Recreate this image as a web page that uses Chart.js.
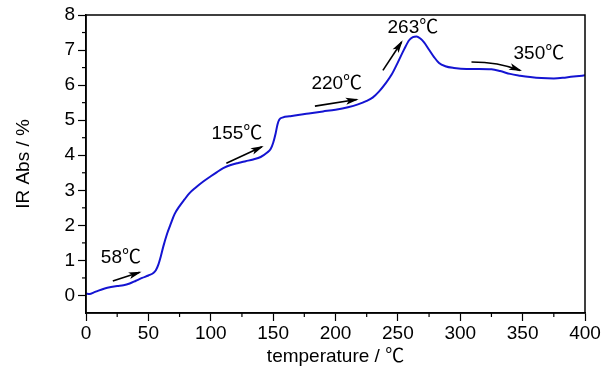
<!DOCTYPE html>
<html>
<head>
<meta charset="utf-8">
<script src="https://cdn.jsdelivr.net/npm/chart.js@4/dist/chart.umd.min.js"></script>
<style>
  html, body { margin: 0; padding: 0; background: #fff; }
  #wrap { width: 607px; height: 372px; }
</style>
</head>
<body>
<div id="wrap"><canvas id="grafico"></canvas></div>
<script>
// Datos: temperatura (℃) vs absorbancia IR (%)
const temperaturas = [0, 3, 6, 10, 15, 20, 25, 30, 35, 40, 45, 50, 54, 56, 58, 60, 62, 65, 68, 71,
  75, 79, 83, 88, 94, 100, 105, 110, 116, 122, 128, 134, 140, 145, 148, 150, 152, 153.5, 155, 158, 163, 170,
  180, 190, 200, 210, 218, 225, 230, 235, 240, 245, 250, 255, 259, 262, 265, 268, 271, 275, 279, 283,
  288, 295, 305, 315, 325, 332, 340, 348, 356, 365, 375, 385, 393, 400];
const absorbancia = [0.05, 0.04, 0.08, 0.14, 0.20, 0.24, 0.27, 0.29, 0.34, 0.42, 0.50, 0.57, 0.64, 0.72, 0.88, 1.12, 1.40, 1.76, 2.05, 2.32,
  2.55, 2.74, 2.92, 3.08, 3.25, 3.40, 3.52, 3.63, 3.72, 3.78, 3.83, 3.88, 3.95, 4.07, 4.18, 4.35, 4.62, 4.88, 5.02, 5.08, 5.11, 5.15,
  5.20, 5.25, 5.30, 5.37, 5.45, 5.55, 5.65, 5.82, 6.04, 6.30, 6.65, 7.02, 7.28, 7.37, 7.39, 7.33, 7.22, 7.01, 6.80, 6.63,
  6.54, 6.49, 6.46, 6.46, 6.45, 6.40, 6.32, 6.27, 6.23, 6.20, 6.19, 6.22, 6.25, 6.28];

// Ticks de los ejes
const ticksX = [0, 50, 100, 150, 200, 250, 300, 350, 400];
const ticksY = [0, 1, 2, 3, 4, 5, 6, 7, 8];
const menoresX = [25, 75, 125, 175, 225, 275, 325, 375];
const menoresY = [0.5, 1.5, 2.5, 3.5, 4.5, 5.5, 6.5, 7.5];

// Anotaciones: texto y flechas (en coordenadas de datos)
const etiquetas = ["58℃", "155℃", "220℃", "263℃", "350℃"];
const etiquetaPos = [[28, 1.08], [121, 4.62], [201, 6.05], [262, 7.65], [363, 6.89]];
const flechas = [
  [[21.5, 0.41], [43, 0.66]],
  [[112.5, 3.77], [141, 4.24]],
  [[183.5, 5.40], [217, 5.59]],
  [[238, 6.42], [253, 7.23]],
  [[309, 6.66], [348, 6.42]]
];

const FUENTE = "'Liberation Sans', Arial, 'Noto Sans CJK SC', sans-serif";

// Dibuja marco, ticks menores, etiquetas y flechas
const anotaciones = {
  id: 'anotaciones',
  afterDraw(chart) {
    const ctx = chart.ctx;
    const a = chart.chartArea;
    const sx = chart.scales.x, sy = chart.scales.y;
    ctx.save();
    ctx.strokeStyle = '#000';
    ctx.lineWidth = 1.5;
    ctx.strokeRect(a.left, a.top, a.right - a.left, a.bottom - a.top);

    ctx.lineWidth = 1.2;
    menoresX.forEach(v => {
      const px = sx.getPixelForValue(v);
      ctx.beginPath(); ctx.moveTo(px, a.bottom); ctx.lineTo(px, a.bottom + 4); ctx.stroke();
    });
    menoresY.forEach(v => {
      const py = sy.getPixelForValue(v);
      ctx.beginPath(); ctx.moveTo(a.left, py); ctx.lineTo(a.left - 4, py); ctx.stroke();
    });

    ctx.fillStyle = '#000';
    ctx.font = '19px ' + FUENTE;
    ctx.textAlign = 'center';
    ctx.textBaseline = 'middle';
    etiquetas.forEach((t, i) => {
      ctx.fillText(t, sx.getPixelForValue(etiquetaPos[i][0]), sy.getPixelForValue(etiquetaPos[i][1]));
    });

    flechas.forEach((f, i) => {
      const x0 = sx.getPixelForValue(f[0][0]), y0 = sy.getPixelForValue(f[0][1]);
      const x1 = sx.getPixelForValue(f[1][0]), y1 = sy.getPixelForValue(f[1][1]);
      ctx.lineWidth = 1.6;
      ctx.beginPath();
      ctx.moveTo(x0, y0);
      let ang;
      if (i === 4) {
        // flecha curva de 350℃
        const cx = x0 + (x1 - x0) * 0.55, cy = y0;
        ctx.quadraticCurveTo(cx, cy, x1, y1);
        ang = Math.atan2(y1 - cy, x1 - cx);
      } else {
        ctx.lineTo(x1, y1);
        ang = Math.atan2(y1 - y0, x1 - x0);
      }
      ctx.stroke();
      const L = 11, W = 3.5;
      ctx.beginPath();
      ctx.moveTo(x1 + Math.cos(ang) * 2, y1 + Math.sin(ang) * 2);
      ctx.lineTo(x1 - Math.cos(ang) * L + Math.sin(ang) * W, y1 - Math.sin(ang) * L - Math.cos(ang) * W);
      ctx.lineTo(x1 - Math.cos(ang) * (L - 3), y1 - Math.sin(ang) * (L - 3));
      ctx.lineTo(x1 - Math.cos(ang) * L - Math.sin(ang) * W, y1 - Math.sin(ang) * L + Math.cos(ang) * W);
      ctx.closePath();
      ctx.fill();
    });
    ctx.restore();
  }
};

new Chart(document.getElementById('grafico'), {
  type: 'line',
  data: {
    datasets: [{
      data: temperaturas.map((t, i) => ({ x: t, y: absorbancia[i] })),
      borderColor: 'rgb(20, 20, 210)',
      borderWidth: 2,
      pointRadius: 0,
      cubicInterpolationMode: 'monotone',
      fill: false
    }]
  },
  options: {
    responsive: true,
    maintainAspectRatio: false,
    animation: false,
    layout: { padding: { top: 15, right: 22, left: 0, bottom: 0 } },
    plugins: { legend: { display: false }, tooltip: { enabled: false } },
    scales: {
      x: {
        type: 'linear',
        min: 0, max: 400,
        afterBuildTicks: s => { s.ticks = ticksX.map(v => ({ value: v })); },
        afterFit: s => { s.height = 59; },
        grid: { drawOnChartArea: false, tickLength: 8, tickColor: '#000', tickWidth: 1.2 },
        border: { color: '#000', width: 1.5 },
        ticks: { color: '#000', font: { family: FUENTE, size: 19 }, padding: 1, maxRotation: 0 },
        title: { display: true, text: 'temperature / ℃', color: '#000', font: { family: FUENTE, size: 19 }, padding: { top: 0, bottom: 4 } }
      },
      y: {
        type: 'linear',
        min: -0.5, max: 8,
        afterBuildTicks: s => { s.ticks = ticksY.map(v => ({ value: v })); },
        afterFit: s => { s.width = 86; },
        grid: { drawOnChartArea: false, tickLength: 8, tickColor: '#000', tickWidth: 1.2 },
        border: { color: '#000', width: 1.5 },
        ticks: { color: '#000', font: { family: FUENTE, size: 19 }, padding: 3 },
        title: { display: true, text: 'IR Abs / %', color: '#000', font: { family: FUENTE, size: 19 }, padding: { top: 12, bottom: 0 } }
      }
    }
  },
  plugins: [anotaciones]
});
</script>
</body>
</html>
